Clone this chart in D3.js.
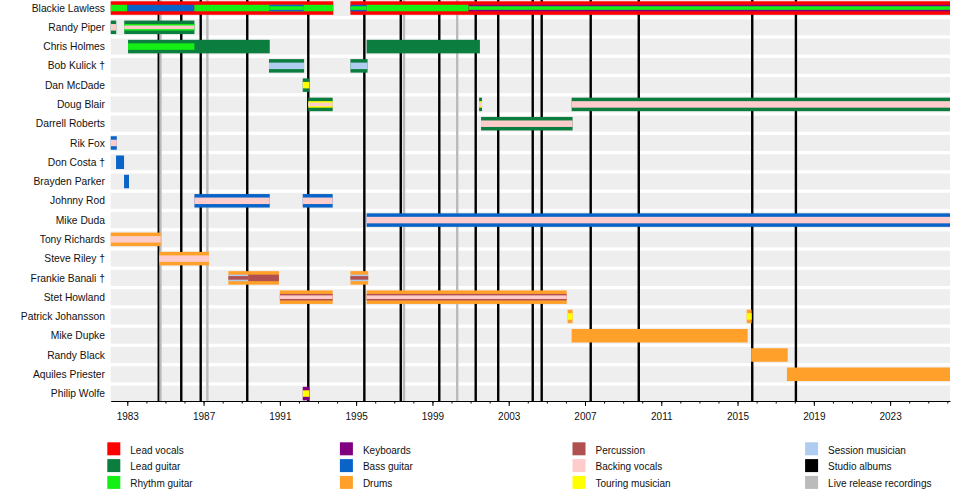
<!DOCTYPE html>
<html><head><meta charset="utf-8">
<script src="https://cdn.jsdelivr.net/npm/d3@7"></script>
<style>body{margin:0;background:#fff} text{font-family:"Liberation Sans",Arial,sans-serif}</style>
</head><body><svg id="c" width="960" height="500"></svg>
<script>
const START = 1982.13, END = 2026.14;

const members = ["Blackie Lawless","Randy Piper","Chris Holmes","Bob Kulick †","Dan McDade","Doug Blair",
  "Darrell Roberts","Rik Fox","Don Costa †","Brayden Parker","Johnny Rod","Mike Duda","Tony Richards",
  "Steve Riley †","Frankie Banali †","Stet Howland","Patrick Johansson","Mike Dupke","Randy Black",
  "Aquiles Priester","Philip Wolfe"];

const roles = ["Lead vocals","Lead guitar","Rhythm guitar","Keyboards","Bass guitar","Drums",
  "Percussion","Backing vocals","Touring musician","Session musician"];
const roleColors = ["#ff0000","#0b7d3e","#14f014","#800080","#0a64c8","#ffa02a",
  "#b05050","#ffcccc","#ffff00","#b0ccf0"];

const markerNames = ["Studio albums","Live release recordings"];
const markerColors = ["#000000","#bbbbbb"];
const studioAlbums = [1984.65,1985.83,1986.85,1989.29,1992.49,1995.43,1997.34,1999.36,2001.27,
  2002.45,2004.26,2004.73,2007.30,2009.82,2015.77,2018.06];
const liveReleases = [1984.74,1987.2,1997.51,2000.30];

const tickYears = [1983,1987,1991,1995,1999,2003,2007,2011,2015,2019,2023];

// [member, role, from, till, level]  level 1 = main role, 2/3 = secondary roles
const periods = [
  ["Blackie Lawless","Lead vocals",START,1993.8,1],
  ["Blackie Lawless","Lead vocals",1994.7,END,1],
  ["Blackie Lawless","Rhythm guitar",START,1983.0,2],
  ["Blackie Lawless","Bass guitar",1983.0,1986.52,2],
  ["Blackie Lawless","Rhythm guitar",1986.52,1993.8,2],
  ["Blackie Lawless","Bass guitar",1990.45,1992.25,2],
  ["Blackie Lawless","Rhythm guitar",1990.45,1992.25,3],
  ["Blackie Lawless","Bass guitar",1994.7,1995.55,2],
  ["Blackie Lawless","Rhythm guitar",1994.7,1995.55,3],
  ["Blackie Lawless","Rhythm guitar",1995.55,2000.9,2],
  ["Blackie Lawless","Keyboards",2000.9,END,2],
  ["Blackie Lawless","Rhythm guitar",2000.9,END,3],

  ["Randy Piper","Lead guitar",START,1982.42,1],
  ["Randy Piper","Backing vocals",START,1982.42,2],
  ["Randy Piper","Lead guitar",1982.84,1986.52,1],
  ["Randy Piper","Rhythm guitar",1982.84,1986.52,2],
  ["Randy Piper","Backing vocals",1982.84,1986.52,3],

  ["Chris Holmes","Lead guitar",1983.04,1990.47,1],
  ["Chris Holmes","Rhythm guitar",1983.04,1986.52,2],
  ["Chris Holmes","Lead guitar",1995.55,2001.49,1],

  ["Bob Kulick †","Lead guitar",1990.43,1992.27,1],
  ["Bob Kulick †","Session musician",1990.43,1992.27,2],
  ["Bob Kulick †","Lead guitar",1994.7,1995.6,1],
  ["Bob Kulick †","Session musician",1994.7,1995.6,2],

  ["Dan McDade","Lead guitar",1992.2,1992.55,1],
  ["Dan McDade","Touring musician",1992.2,1992.55,2],

  ["Doug Blair","Lead guitar",1992.49,1993.77,1],
  ["Doug Blair","Touring musician",1992.49,1993.77,2],
  ["Doug Blair","Backing vocals",1992.49,1993.77,3],
  ["Doug Blair","Lead guitar",2001.45,2001.6,1],
  ["Doug Blair","Touring musician",2001.45,2001.6,2],
  ["Doug Blair","Backing vocals",2001.45,2001.6,3],
  ["Doug Blair","Lead guitar",2006.3,END,1],
  ["Doug Blair","Backing vocals",2006.3,END,2],

  ["Darrell Roberts","Lead guitar",2001.55,2006.35,1],
  ["Darrell Roberts","Backing vocals",2001.55,2006.35,2],

  ["Rik Fox","Bass guitar",START,1982.45,1],
  ["Rik Fox","Backing vocals",START,1982.45,2],
  ["Don Costa †","Bass guitar",1982.41,1982.83,1],
  ["Brayden Parker","Bass guitar",1982.83,1983.09,1],

  ["Johnny Rod","Bass guitar",1986.52,1990.47,1],
  ["Johnny Rod","Backing vocals",1986.52,1990.47,2],
  ["Johnny Rod","Bass guitar",1992.2,1993.77,1],
  ["Johnny Rod","Backing vocals",1992.2,1993.77,2],

  ["Mike Duda","Bass guitar",1995.55,END,1],
  ["Mike Duda","Backing vocals",1995.55,END,2],

  ["Tony Richards","Drums",START,1984.75,1],
  ["Tony Richards","Backing vocals",START,1984.75,2],
  ["Steve Riley †","Drums",1984.68,1987.28,1],
  ["Steve Riley †","Backing vocals",1984.68,1987.28,2],

  ["Frankie Banali †","Drums",1988.3,1990.95,1],
  ["Frankie Banali †","Session musician",1988.3,1989.34,2],
  ["Frankie Banali †","Percussion",1988.3,1989.34,3],
  ["Frankie Banali †","Percussion",1989.34,1990.95,2],
  ["Frankie Banali †","Drums",1994.7,1995.63,1],
  ["Frankie Banali †","Session musician",1994.7,1995.63,2],
  ["Frankie Banali †","Percussion",1994.7,1995.63,3],

  ["Stet Howland","Drums",1991.0,1993.77,1],
  ["Stet Howland","Percussion",1991.0,1993.77,2],
  ["Stet Howland","Backing vocals",1991.0,1993.77,3],
  ["Stet Howland","Drums",1995.55,2006.04,1],
  ["Stet Howland","Percussion",1995.55,2006.04,2],
  ["Stet Howland","Backing vocals",1995.55,2006.04,3],

  ["Patrick Johansson","Drums",2006.09,2006.35,1],
  ["Patrick Johansson","Touring musician",2006.09,2006.35,2],
  ["Patrick Johansson","Drums",2015.48,2015.74,1],
  ["Patrick Johansson","Touring musician",2015.48,2015.74,2],

  ["Mike Dupke","Drums",2006.3,2015.53,1],
  ["Randy Black","Drums",2015.71,2017.63,1],
  ["Aquiles Priester","Drums",2017.59,END,1],

  ["Philip Wolfe","Keyboards",1992.2,1992.55,1],
  ["Philip Wolfe","Touring musician",1992.2,1992.55,2]
];

// ---------- drawing ----------
const svg = d3.select("#c");
const x = d3.scaleLinear().domain([START, END]).range([110.7, 950]);
const y = d3.scaleBand().domain(members).range([-1.6, 403.2]);
const colorOf = d3.scaleOrdinal().domain(roles.concat(markerNames)).range(roleColors.concat(markerColors));
const levelHeight = {1: 13.5, 2: 6.5, 3: 3.6};
const cy = m => y(m) + y.bandwidth() / 2;
const axisY = 401;

// row backgrounds
svg.append("g").selectAll("rect").data(members).join("rect")
  .attr("x", x(START)).attr("width", x(END) - x(START))
  .attr("y", d => cy(d) - 8).attr("height", 16)
  .attr("fill", "#eeeeee");

// release lines
const lines = studioAlbums.map(v => ({v, t: "Studio albums"}))
  .concat(liveReleases.map(v => ({v, t: "Live release recordings"})));
svg.append("g").selectAll("line").data(lines).join("line")
  .attr("x1", d => x(d.v)).attr("x2", d => x(d.v))
  .attr("y1", 0).attr("y2", axisY)
  .attr("stroke", d => colorOf(d.t)).attr("stroke-width", 2.4);

// bars
const bars = periods.map(p => ({m: p[0], r: p[1], f: p[2], t: p[3], l: p[4]}))
  .map((d, i) => ({...d, i}))
  .sort((a, b) => a.l - b.l || a.i - b.i);
svg.append("g").selectAll("rect").data(bars).join("rect")
  .attr("x", d => x(d.f)).attr("width", d => Math.max(0.5, x(d.t) - x(d.f)))
  .attr("y", d => cy(d.m) - levelHeight[d.l] / 2)
  .attr("height", d => levelHeight[d.l])
  .attr("fill", d => colorOf(d.r));

// member labels
svg.append("g").selectAll("text").data(members).join("text")
  .attr("x", 105).attr("y", d => cy(d)).attr("dy", "0.35em")
  .attr("text-anchor", "end").attr("font-size", 10.3).attr("fill", "#111")
  .text(d => d);

// axis
const minorYears = d3.range(1983, Math.floor(END) + 1);
svg.append("g").attr("transform", `translate(0,${axisY})`)
  .call(d3.axisBottom(x).tickValues(minorYears).tickSize(2.5).tickFormat(""))
  .call(g => g.select(".domain").remove());
svg.append("g").attr("transform", `translate(0,${axisY})`)
  .call(d3.axisBottom(x).tickValues(tickYears).tickSize(5).tickSizeOuter(0).tickPadding(7).tickFormat(d3.format("d")))
  .call(g => g.selectAll("text").attr("font-size", 10).attr("font-family", '"Liberation Sans",Arial,sans-serif').attr("fill", "#111"));

// legend
const legendItems = roles.concat(markerNames);
const lg = svg.append("g").selectAll("g").data(legendItems).join("g")
  .attr("transform", (d, i) => `translate(${107.3 + Math.floor(i / 3) * 232.6},${442.3 + (i % 3) * 16.8})`);
lg.append("rect").attr("width", 13).attr("height", 13).attr("fill", d => colorOf(d));
lg.append("text").attr("x", 23).attr("y", 7.8).attr("dy", "0.35em")
  .attr("font-size", 10).attr("fill", "#111").text(d => d);
</script></body></html>
